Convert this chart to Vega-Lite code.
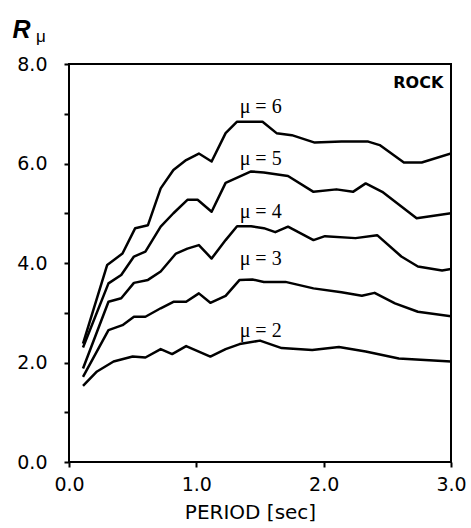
{
  "$schema": "https://vega.github.io/schema/vega-lite/v6.json",
  "width": 382,
  "height": 398,
  "autosize": {"type": "none"},
  "padding": {"left": 69, "top": 64, "right": 20, "bottom": 66},
  "background": "white",
  "config": {
    "view": {"stroke": "black", "strokeWidth": 2},
    "axis": {"grid": false, "domain": false, "tickColor": "black", "tickWidth": 2, "labelColor": "black", "titleColor": "black", "labelFont": "DejaVu Sans", "titleFont": "DejaVu Sans", "labelFlush": false, "titleFontWeight": "normal"}
  },
  "datasets": {
    "curves": [
      {"mu": 6, "period": 0.11, "r": 2.38}, {"mu": 6, "period": 0.30, "r": 3.96}, {"mu": 6, "period": 0.42, "r": 4.19}, {"mu": 6, "period": 0.52, "r": 4.70}, {"mu": 6, "period": 0.62, "r": 4.76}, {"mu": 6, "period": 0.72, "r": 5.50}, {"mu": 6, "period": 0.82, "r": 5.87}, {"mu": 6, "period": 0.92, "r": 6.07}, {"mu": 6, "period": 1.02, "r": 6.20}, {"mu": 6, "period": 1.12, "r": 6.04}, {"mu": 6, "period": 1.23, "r": 6.61}, {"mu": 6, "period": 1.32, "r": 6.84}, {"mu": 6, "period": 1.52, "r": 6.84}, {"mu": 6, "period": 1.63, "r": 6.61}, {"mu": 6, "period": 1.75, "r": 6.57}, {"mu": 6, "period": 1.93, "r": 6.42}, {"mu": 6, "period": 2.14, "r": 6.44}, {"mu": 6, "period": 2.35, "r": 6.44}, {"mu": 6, "period": 2.44, "r": 6.37}, {"mu": 6, "period": 2.63, "r": 6.02}, {"mu": 6, "period": 2.77, "r": 6.02}, {"mu": 6, "period": 3.0, "r": 6.2},
      {"mu": 5, "period": 0.11, "r": 2.30}, {"mu": 5, "period": 0.31, "r": 3.59}, {"mu": 5, "period": 0.41, "r": 3.76}, {"mu": 5, "period": 0.51, "r": 4.13}, {"mu": 5, "period": 0.60, "r": 4.23}, {"mu": 5, "period": 0.72, "r": 4.73}, {"mu": 5, "period": 0.82, "r": 5.0}, {"mu": 5, "period": 0.93, "r": 5.27}, {"mu": 5, "period": 1.01, "r": 5.27}, {"mu": 5, "period": 1.12, "r": 5.03}, {"mu": 5, "period": 1.23, "r": 5.61}, {"mu": 5, "period": 1.43, "r": 5.84}, {"mu": 5, "period": 1.53, "r": 5.82}, {"mu": 5, "period": 1.72, "r": 5.75}, {"mu": 5, "period": 1.92, "r": 5.43}, {"mu": 5, "period": 2.10, "r": 5.48}, {"mu": 5, "period": 2.23, "r": 5.43}, {"mu": 5, "period": 2.33, "r": 5.60}, {"mu": 5, "period": 2.46, "r": 5.43}, {"mu": 5, "period": 2.73, "r": 4.90}, {"mu": 5, "period": 3.0, "r": 5.0},
      {"mu": 4, "period": 0.11, "r": 1.88}, {"mu": 4, "period": 0.31, "r": 3.22}, {"mu": 4, "period": 0.41, "r": 3.29}, {"mu": 4, "period": 0.51, "r": 3.60}, {"mu": 4, "period": 0.62, "r": 3.66}, {"mu": 4, "period": 0.72, "r": 3.83}, {"mu": 4, "period": 0.84, "r": 4.19}, {"mu": 4, "period": 0.93, "r": 4.29}, {"mu": 4, "period": 1.02, "r": 4.36}, {"mu": 4, "period": 1.12, "r": 4.09}, {"mu": 4, "period": 1.23, "r": 4.46}, {"mu": 4, "period": 1.32, "r": 4.74}, {"mu": 4, "period": 1.43, "r": 4.74}, {"mu": 4, "period": 1.53, "r": 4.70}, {"mu": 4, "period": 1.62, "r": 4.62}, {"mu": 4, "period": 1.72, "r": 4.73}, {"mu": 4, "period": 1.92, "r": 4.46}, {"mu": 4, "period": 2.01, "r": 4.54}, {"mu": 4, "period": 2.25, "r": 4.50}, {"mu": 4, "period": 2.42, "r": 4.56}, {"mu": 4, "period": 2.61, "r": 4.13}, {"mu": 4, "period": 2.74, "r": 3.93}, {"mu": 4, "period": 2.93, "r": 3.85}, {"mu": 4, "period": 3.0, "r": 3.88},
      {"mu": 3, "period": 0.11, "r": 1.71}, {"mu": 3, "period": 0.31, "r": 2.65}, {"mu": 3, "period": 0.42, "r": 2.75}, {"mu": 3, "period": 0.51, "r": 2.92}, {"mu": 3, "period": 0.60, "r": 2.92}, {"mu": 3, "period": 0.72, "r": 3.09}, {"mu": 3, "period": 0.82, "r": 3.22}, {"mu": 3, "period": 0.92, "r": 3.22}, {"mu": 3, "period": 1.02, "r": 3.39}, {"mu": 3, "period": 1.11, "r": 3.20}, {"mu": 3, "period": 1.23, "r": 3.34}, {"mu": 3, "period": 1.34, "r": 3.66}, {"mu": 3, "period": 1.44, "r": 3.67}, {"mu": 3, "period": 1.53, "r": 3.62}, {"mu": 3, "period": 1.70, "r": 3.62}, {"mu": 3, "period": 1.92, "r": 3.49}, {"mu": 3, "period": 2.14, "r": 3.41}, {"mu": 3, "period": 2.30, "r": 3.34}, {"mu": 3, "period": 2.40, "r": 3.40}, {"mu": 3, "period": 2.56, "r": 3.19}, {"mu": 3, "period": 2.74, "r": 3.02}, {"mu": 3, "period": 3.0, "r": 2.93},
      {"mu": 2, "period": 0.11, "r": 1.53}, {"mu": 2, "period": 0.22, "r": 1.82}, {"mu": 2, "period": 0.35, "r": 2.02}, {"mu": 2, "period": 0.50, "r": 2.12}, {"mu": 2, "period": 0.60, "r": 2.10}, {"mu": 2, "period": 0.72, "r": 2.27}, {"mu": 2, "period": 0.81, "r": 2.17}, {"mu": 2, "period": 0.92, "r": 2.33}, {"mu": 2, "period": 1.11, "r": 2.12}, {"mu": 2, "period": 1.23, "r": 2.27}, {"mu": 2, "period": 1.34, "r": 2.37}, {"mu": 2, "period": 1.50, "r": 2.44}, {"mu": 2, "period": 1.67, "r": 2.29}, {"mu": 2, "period": 1.91, "r": 2.25}, {"mu": 2, "period": 2.12, "r": 2.31}, {"mu": 2, "period": 2.33, "r": 2.22}, {"mu": 2, "period": 2.59, "r": 2.08}, {"mu": 2, "period": 3.0, "r": 2.02}
    ],
    "labels": [
      {"text": "μ = 6", "period": 1.34, "r": 7.02},
      {"text": "μ = 5", "period": 1.34, "r": 5.97},
      {"text": "μ = 4", "period": 1.34, "r": 4.90},
      {"text": "μ = 3", "period": 1.34, "r": 3.96},
      {"text": "μ = 2", "period": 1.34, "r": 2.51}
    ],
    "notes": [
      {"text": "ROCK", "period": 2.94, "r": 7.52}
    ],
    "sub": [
      {"text": "μ", "period": -0.26, "r": 8.45}
    ]
  },
  "layer": [
    {
      "data": {"name": "curves"},
      "mark": {"type": "line", "color": "black", "strokeWidth": 2.5, "strokeJoin": "round", "clip": true},
      "encoding": {
        "x": {
          "field": "period", "type": "quantitative",
          "scale": {"domain": [0, 3], "nice": false},
          "axis": {
            "values": [0, 1, 2, 3], "format": ".1f", "title": "PERIOD [sec]",
            "tickSize": 5, "labelPadding": 8, "labelFontSize": 19,
            "titleFontSize": 20, "titleX": 181, "titleY": 56, "titleBaseline": "alphabetic", "titlePadding": 0
          }
        },
        "y": {
          "field": "r", "type": "quantitative",
          "scale": {"domain": [0, 8], "nice": false},
          "axis": {
            "values": [0, 1, 2, 3, 4, 5, 6, 7, 8],
            "labelExpr": "datum.value % 2 == 0 ? format(datum.value, '.1f') : ''",
            "tickSize": 5, "labelPadding": 17, "labelFontSize": 19,
            "title": "R", "titleAngle": 0, "titleAlign": "left", "titleBaseline": "alphabetic",
            "titleX": -57, "titleY": -27, "titleFont": "Liberation Sans", "titleFontSize": 25,
            "titleFontWeight": "bold", "titleFontStyle": "italic"
          }
        },
        "detail": {"field": "mu", "type": "nominal"}
      }
    },
    {
      "data": {"name": "labels"},
      "mark": {"type": "text", "align": "left", "baseline": "alphabetic", "font": "Liberation Serif", "fontSize": 20, "color": "black"},
      "encoding": {
        "x": {"field": "period", "type": "quantitative"},
        "y": {"field": "r", "type": "quantitative"},
        "text": {"field": "text"}
      }
    },
    {
      "data": {"name": "notes"},
      "mark": {"type": "text", "align": "right", "baseline": "alphabetic", "font": "DejaVu Sans", "fontWeight": "bold", "fontSize": 16, "color": "black"},
      "encoding": {
        "x": {"field": "period", "type": "quantitative"},
        "y": {"field": "r", "type": "quantitative"},
        "text": {"field": "text"}
      }
    },
    {
      "data": {"name": "sub"},
      "mark": {"type": "text", "align": "left", "baseline": "alphabetic", "font": "Liberation Sans", "fontSize": 17, "color": "black"},
      "encoding": {
        "x": {"field": "period", "type": "quantitative"},
        "y": {"field": "r", "type": "quantitative"},
        "text": {"field": "text"}
      }
    }
  ]
}
